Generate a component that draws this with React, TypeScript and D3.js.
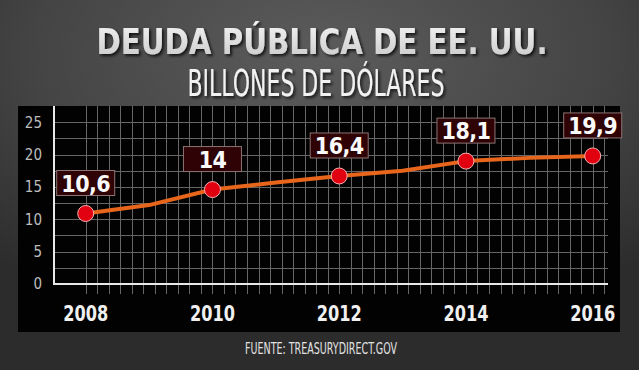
import React from 'react';
import { scaleLinear, line, range, curveLinear } from 'd3';

// debt by year (trillions)
const years = [2008, 2009, 2010, 2011, 2012, 2013, 2014, 2015, 2016];
const debt = [10.9, 12.2, 14.6, 15.7, 16.7, 17.5, 19.0, 19.5, 19.8];
const labelYears = [2008, 2010, 2012, 2014, 2016];
const labelTexts = ['10,6', '14', '16,4', '18,1', '19,9'];
const yTicks = [0, 5, 10, 15, 20, 25];
const yGrid = range(0, 25.01, 2.5);

const W = 639;
const H = 370;
const COND = "'DejaVu Sans Condensed', 'DejaVu Sans', sans-serif";

const App: React.FC = () => {
  const x = scaleLinear().domain([2008, 2016]).range([85.7, 592.7]);
  const y = scaleLinear().domain([0, 25]).range([284, 122.3]);

  // vertical grid: 11 columns per 2 years, starting at 2008
  const colStep = 2 / 11;
  const xGrid = range(0, 46).map(i => 2008 + i * colStep);

  const pts = years.map((yr, i) => [x(yr), y(debt[i])] as [number, number]);
  const path = line().curve(curveLinear)(pts) ?? '';

  const axisLeft = 54;
  const gridRight = 608;
  const panelTop = 106;

  return (
    <>
      <style>{'body{margin:0}'}</style>
      <svg width={W} height={H} style={{ display: 'block' }}>
        <defs>
          <radialGradient id="bg" cx="50%" cy="15%" r="75%">
            <stop offset="0%" stopColor="#5c5c5c" />
            <stop offset="60%" stopColor="#444" />
            <stop offset="100%" stopColor="#2c2c2c" />
          </radialGradient>
          <linearGradient id="title" x1="0" y1="0" x2="0" y2="1">
            <stop offset="0%" stopColor="#f4f4f4" />
            <stop offset="100%" stopColor="#c8c8c8" />
          </linearGradient>
          <filter id="shadow" x="-10%" y="-30%" width="120%" height="160%">
            <feDropShadow dx="2" dy="2" stdDeviation="1.5" floodColor="#000" floodOpacity="0.75" />
          </filter>
        </defs>

        <rect width={W} height={H} fill="url(#bg)" />

        {/* titles */}
        <text
          x={322}
          y={54}
          textAnchor="middle"
          fontFamily={COND}
          fontWeight="bold"
          fontSize={35}
          textLength={451}
          lengthAdjust="spacingAndGlyphs"
          fill="url(#title)"
          filter="url(#shadow)"
        >
          DEUDA PÚBLICA DE EE. UU.
        </text>
        <text
          x={316}
          y={95.5}
          textAnchor="middle"
          fontFamily={COND}
          fontSize={37}
          textLength={257}
          lengthAdjust="spacingAndGlyphs"
          fill="#f2f2f2"
          filter="url(#shadow)"
        >
          BILLONES DE DÓLARES
        </text>

        {/* panel */}
        <rect x={18} y={panelTop} width={602} height={226} fill="#020202" />

        {/* grid */}
        <g stroke="#666" strokeWidth={1}>
          {xGrid.map((g, i) => (
            <line key={'v' + i} x1={Math.round(x(g)) + 0.5} x2={Math.round(x(g)) + 0.5} y1={panelTop} y2={294} />
          ))}
          {yGrid.slice(1).map((g, i) => (
            <line key={'h' + i} x1={axisLeft} x2={gridRight} y1={Math.round(y(g)) + 0.5} y2={Math.round(y(g)) + 0.5} />
          ))}
        </g>
        <line x1={axisLeft} x2={gridRight} y1={y(0)} y2={y(0)} stroke="#e8e8e8" strokeWidth={2} />
        <line x1={axisLeft} x2={axisLeft} y1={panelTop} y2={y(0) + 1} stroke="#e8e8e8" strokeWidth={2} />

        {/* y tick labels */}
        {yTicks.map(t => (
          <text
            key={t}
            x={42}
            y={y(t)}
            dy="0.36em"
            textAnchor="end"
            fontFamily={COND}
            fontSize={15}
            fill="#bdbdbd"
          >
            {t}
          </text>
        ))}

        {/* x labels */}
        {labelYears.map(yr => (
          <text
            key={yr}
            x={x(yr)}
            y={321}
            textAnchor="middle"
            fontFamily={COND}
            fontWeight="bold"
            fontSize={21}
            textLength={45}
            lengthAdjust="spacingAndGlyphs"
            fill="#f0f0f0"
          >
            {yr}
          </text>
        ))}

        {/* line */}
        <path d={path} fill="none" stroke="#e8651c" strokeWidth={4} strokeLinejoin="round" />

        {/* markers and value boxes */}
        {labelYears.map((yr, i) => {
          const v = debt[years.indexOf(yr)];
          const cx = x(yr);
          const cy = y(v);
          const bw = 58;
          const bh = 25;
          const by = cy - 18 - bh;
          return (
            <g key={yr}>
              <circle cx={cx} cy={cy} r={8} fill="#e0000f" stroke="#f3b3b3" strokeWidth={1} />
              <rect x={cx - bw / 2} y={by} width={bw} height={bh} fill="#2f0305" stroke="#8c7474" strokeWidth={1} />
              <text
                x={cx}
                y={by + bh / 2}
                dy="0.37em"
                textAnchor="middle"
                fontFamily={COND}
                fontWeight="bold"
                fontSize={23}
                letterSpacing={-0.6}
                fill="#fafafa"
              >
                {labelTexts[i]}
              </text>
            </g>
          );
        })}

        {/* source */}
        <text
          x={321}
          y={354}
          textAnchor="middle"
          fontFamily={COND}
          fontSize={15}
          textLength={152}
          lengthAdjust="spacingAndGlyphs"
          fill="#e2e2e2"
        >
          FUENTE: TREASURYDIRECT.GOV
        </text>
      </svg>
    </>
  );
};

export default App;
